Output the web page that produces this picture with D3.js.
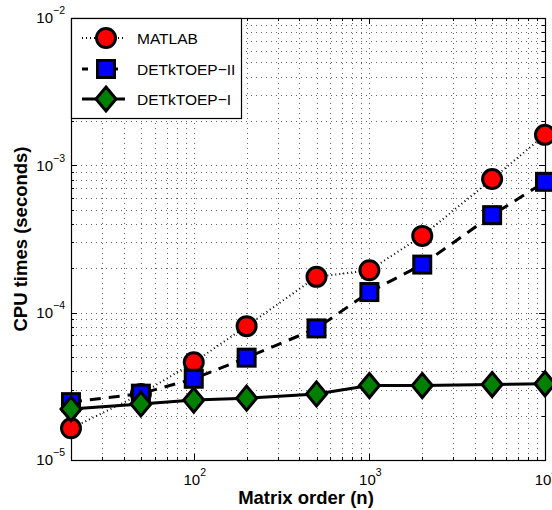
<!DOCTYPE html>
<html>
<head>
<meta charset="utf-8">
<script src="https://d3js.org/d3.v7.min.js"></script>
<style>
  body { margin: 0; background: #fff; }
  text { font-family: "Liberation Sans", Arial, sans-serif; }
</style>
</head>
<body>
<div id="chart"></div>
<script>
// data
let orders = [20, 50, 100, 200, 500, 1000, 2000, 5000, 10000]
let matlab = [1.64e-5, 2.8e-5, 4.6e-5, 8.1e-5, 1.75e-4, 1.94e-4, 3.32e-4, 8.07e-4, 1.61e-3]
let detII  = [2.47e-5, 2.82e-5, 3.56e-5, 4.95e-5, 7.82e-5, 1.38e-4, 2.12e-4, 4.59e-4, 7.73e-4]
let detI   = [2.22e-5, 2.40e-5, 2.55e-5, 2.63e-5, 2.81e-5, 3.20e-5, 3.20e-5, 3.25e-5, 3.29e-5]

let xMajor = [100, 1000, 10000]
let xMajorExp = ["2", "3", "4"]
let yMajor = [1e-5, 1e-4, 1e-3, 1e-2]
let yMajorExp = ["\u22125", "\u22124", "\u22123", "\u22122"]
let seriesNames = ["MATLAB", "DETkTOEP\u2212II", "DETkTOEP\u2212I"]

var width = 552, height = 510
var axL = 71, axR = 545, axT = 18, axB = 460

var svg = d3.select("#chart")
  .append("svg")
  .attr("width", width)
  .attr("height", height)

var x = d3.scaleLog().domain([20, 10000]).range([axL, axR])
var y = d3.scaleLog().domain([1e-5, 1e-2]).range([axB, axT])

// minor positions for every decade
let xMinor = []
for (let d = 10; d <= 1000; d *= 10)
  for (let k = 2; k <= 9; k++) if (d * k >= 20) xMinor.push(d * k)
let yMinor = []
for (let d = 1e-5; d < 1e-2 * 0.99; d *= 10)
  for (let k = 2; k <= 9; k++) yMinor.push(d * k)

// dotted grid
var grid = svg.append("g")
  .attr("stroke", "#666")
  .attr("stroke-width", 1)
  .attr("stroke-dasharray", "1,4")
xMajor.concat(xMinor).forEach(v => {
  grid.append("line")
    .attr("x1", Math.round(x(v)) + 0.5).attr("x2", Math.round(x(v)) + 0.5)
    .attr("y1", axT).attr("y2", axB)
})
yMajor.concat(yMinor).forEach(v => {
  grid.append("line")
    .attr("y1", Math.round(y(v)) + 0.5).attr("y2", Math.round(y(v)) + 0.5)
    .attr("x1", axL).attr("x2", axR)
})

// inward ticks on all four sides
var ticks = svg.append("g").attr("stroke", "#000").attr("stroke-width", 1)
let addXTick = (v, len) => {
  let px = Math.round(x(v)) + 0.5
  ticks.append("line").attr("x1", px).attr("x2", px).attr("y1", axB).attr("y2", axB - len)
  ticks.append("line").attr("x1", px).attr("x2", px).attr("y1", axT).attr("y2", axT + len)
}
let addYTick = (v, len) => {
  let py = Math.round(y(v)) + 0.5
  ticks.append("line").attr("y1", py).attr("y2", py).attr("x1", axL).attr("x2", axL + len)
  ticks.append("line").attr("y1", py).attr("y2", py).attr("x1", axR).attr("x2", axR - len)
}
xMajor.forEach(v => addXTick(v, 6))
xMinor.forEach(v => addXTick(v, 3))
yMajor.forEach(v => addYTick(v, 6))
yMinor.forEach(v => addYTick(v, 3))

// box
svg.append("rect")
  .attr("x", axL + 0.5).attr("y", axT + 0.5)
  .attr("width", axR - axL).attr("height", axB - axT)
  .attr("fill", "none").attr("stroke", "#000").attr("stroke-width", 1.2)

// tick labels
xMajor.forEach((v, i) => {
  let t = svg.append("text")
    .attr("x", x(v) + 1).attr("y", 485)
    .attr("text-anchor", "middle")
    .style("font-size", "15px")
  t.append("tspan").text("10")
  t.append("tspan").attr("dy", -9).style("font-size", "10.5px").text(xMajorExp[i])
})
yMajor.forEach((v, i) => {
  let t = svg.append("text")
    .attr("x", 65).attr("y", y(v) + 5.3)
    .attr("text-anchor", "end")
    .style("font-size", "15px")
  t.append("tspan").text("10")
  t.append("tspan").attr("dy", -9).style("font-size", "10.5px").text(yMajorExp[i])
})

// axis labels
svg.append("text")
  .attr("x", 306).attr("y", 504)
  .attr("text-anchor", "middle")
  .style("font-size", "18.5px").style("font-weight", "bold")
  .text("Matrix order (n)")
svg.append("text")
  .attr("transform", "translate(27,239) rotate(-90)")
  .attr("text-anchor", "middle")
  .style("font-size", "18.5px").style("font-weight", "bold")
  .text("CPU times (seconds)")

// markers
let circle = (g, cx, cy) => g.append("circle").attr("cx", cx).attr("cy", cy).attr("r", 9.5)
  .attr("fill", "#ff0000").attr("stroke", "#000").attr("stroke-width", 3)
let square = (g, cx, cy) => g.append("rect").attr("x", cx - 8.5).attr("y", cy - 8.5)
  .attr("width", 17).attr("height", 17)
  .attr("fill", "#0000ff").attr("stroke", "#000").attr("stroke-width", 3)
let diamond = (g, cx, cy) => g.append("path")
  .attr("d", "M" + cx + "," + (cy - 12) + "L" + (cx + 10) + "," + cy + "L" + cx + "," + (cy + 12) + "L" + (cx - 10) + "," + cy + "Z")
  .attr("fill", "#008000").attr("stroke", "#000").attr("stroke-width", 3).attr("stroke-linejoin", "miter")

let series = [
  { values: matlab, dash: "1,3", lw: 2, marker: circle },
  { values: detII, dash: "11,8", lw: 3, marker: square },
  { values: detI, dash: null, lw: 3, marker: diamond }
]

var line = d3.line().x(d => x(d[0])).y(d => y(d[1]))

series.forEach(s => {
  let g = svg.append("g")
  let pts = orders.map((n, i) => [n, s.values[i]])
  g.append("path")
    .attr("d", line(pts))
    .attr("fill", "none")
    .attr("stroke", "#000")
    .attr("stroke-width", s.lw)
    .attr("stroke-dasharray", s.dash)
  pts.forEach(p => s.marker(g, x(p[0]), y(p[1])))
})

// legend
var legend = svg.append("g")
legend.append("rect")
  .attr("x", axL + 0.5).attr("y", axT + 0.5)
  .attr("width", 170).attr("height", 100)
  .attr("fill", "#fff").attr("stroke", "#000").attr("stroke-width", 1.2)

let rows = [38, 69, 99]
series.forEach((s, i) => {
  legend.append("line")
    .attr("x1", 82).attr("x2", 125)
    .attr("y1", rows[i]).attr("y2", rows[i])
    .attr("stroke", "#000").attr("stroke-width", s.lw)
    .attr("stroke-dasharray", i == 1 ? "6,9" : s.dash)
  s.marker(legend, 106, rows[i])
  legend.append("text")
    .attr("x", 137).attr("y", rows[i] + 5.5)
    .style("font-size", "15.5px")
    .text(seriesNames[i])
})
</script>
</body>
</html>
